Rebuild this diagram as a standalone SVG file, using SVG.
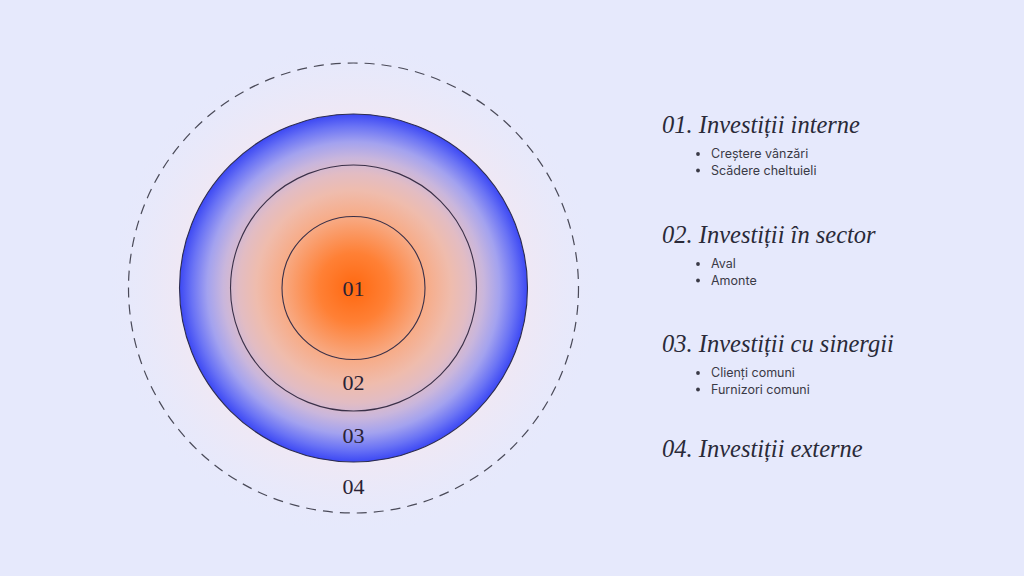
<svg xmlns="http://www.w3.org/2000/svg" width="1024" height="576" viewBox="0 0 1024 576">
  <defs>
    <radialGradient id="core" cx="353.5" cy="288" r="174" gradientUnits="userSpaceOnUse">
      <stop offset="0" stop-color="#ff6810"/>
      <stop offset="0.2" stop-color="#ff8035"/>
      <stop offset="0.42" stop-color="#f7ac88"/>
      <stop offset="0.56" stop-color="#efbcad"/>
      <stop offset="0.66" stop-color="#e2bcc3"/>
      <stop offset="0.75" stop-color="#c9b6dc"/>
      <stop offset="0.84" stop-color="#a3a2ef"/>
      <stop offset="0.93" stop-color="#6a73f5"/>
      <stop offset="1" stop-color="#3c48f4"/>
    </radialGradient>
    <radialGradient id="halo" cx="353.5" cy="288" r="250" gradientUnits="userSpaceOnUse">
      <stop offset="0.68" stop-color="#f0e8f4" stop-opacity="1"/>
      <stop offset="0.8" stop-color="#ede8f6" stop-opacity="0.6"/>
      <stop offset="1" stop-color="#e6e9fc" stop-opacity="0"/>
    </radialGradient>
    <style>
      .ring { fill: none; stroke: #3a3048; stroke-width: 1.1; }
      .num { font-family: "Liberation Serif", "DejaVu Serif", serif; font-size: 22px; fill: #2a2234; text-anchor: middle; }
      .head { font-family: "Liberation Serif", "DejaVu Serif", serif; font-style: italic; font-size: 24.5px; fill: #2a2a38; }
      .item { font-family: Inter, "Liberation Sans", sans-serif; font-size: 12.5px; fill: #3a3a46; }
      .dot { fill: #3a3a46; }
    </style>
  </defs>
  <rect width="1024" height="576" fill="#e6e9fc"/>

  <g id="diagram">
    <circle cx="353.5" cy="288" r="250" fill="url(#halo)"/>
    <g id="ring-04">
      <circle cx="353.5" cy="288" r="225" fill="none" stroke="#4a4a58" stroke-width="1.2" stroke-dasharray="10 7"/>
      <text class="num" x="353.5" y="494">04</text>
    </g>
    <g id="ring-03">
      <circle cx="353.5" cy="288" r="174" fill="url(#core)" stroke="#2c2c50" stroke-width="1.1"/>
      <text class="num" x="353.5" y="443">03</text>
    </g>
    <g id="ring-02">
      <circle class="ring" cx="353.5" cy="288" r="123"/>
      <text class="num" x="353.5" y="390">02</text>
    </g>
    <g id="ring-01">
      <circle class="ring" cx="353.5" cy="288" r="71.5"/>
      <text class="num" x="353.5" y="296">01</text>
    </g>
  </g>

  <g id="legend-01">
    <text class="head" x="662" y="133">01. Investiții interne</text>
    <circle class="dot" cx="698" cy="154" r="1.9"/>
    <text class="item" x="711" y="158">Creștere vânzări</text>
    <circle class="dot" cx="698" cy="170.5" r="1.9"/>
    <text class="item" x="711" y="174.5">Scădere cheltuieli</text>
  </g>
  <g id="legend-02">
    <text class="head" x="662" y="243">02. Investiții în sector</text>
    <circle class="dot" cx="698" cy="264" r="1.9"/>
    <text class="item" x="711" y="268">Aval</text>
    <circle class="dot" cx="698" cy="280.5" r="1.9"/>
    <text class="item" x="711" y="284.5">Amonte</text>
  </g>
  <g id="legend-03">
    <text class="head" x="662" y="352">03. Investiții cu sinergii</text>
    <circle class="dot" cx="698" cy="373" r="1.9"/>
    <text class="item" x="711" y="377">Clienți comuni</text>
    <circle class="dot" cx="698" cy="389.5" r="1.9"/>
    <text class="item" x="711" y="393.5">Furnizori comuni</text>
  </g>
  <g id="legend-04">
    <text class="head" x="662" y="457">04. Investiții externe</text>
  </g>
</svg>
